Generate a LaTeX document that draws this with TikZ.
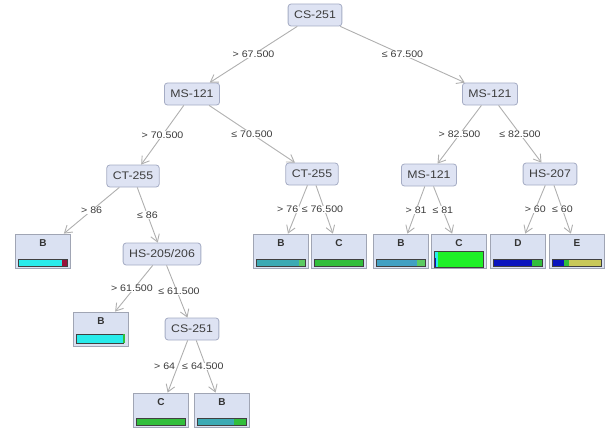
\documentclass[tikz,border=0pt]{standalone}
\usepackage{fontspec}
\setmainfont{Liberation Sans}
\newfontfamily\lab[FakeStretch=1.12]{Liberation Sans}
\usetikzlibrary{arrows.meta,calc}
\definecolor{nodefill}{RGB}{222,227,243}
\definecolor{nodedraw}{RGB}{165,172,196}
\definecolor{leaffill}{RGB}{218,225,242}
\definecolor{leafdraw}{RGB}{160,165,180}
\definecolor{edgecol}{RGB}{175,175,175}
\definecolor{labcol}{RGB}{60,60,60}
\definecolor{cyanb}{RGB}{40,235,235}
\definecolor{tealb}{RGB}{60,170,180}
\definecolor{steelb}{RGB}{65,160,195}
\definecolor{greenb}{RGB}{50,190,60}
\definecolor{limeb}{RGB}{30,240,40}
\definecolor{navyb}{RGB}{10,20,190}
\definecolor{oliveb}{RGB}{200,200,90}
\definecolor{redb}{RGB}{150,20,60}
\newcommand{\leafbar}[2]{\begin{scope}[shift={(#1.south west)}]#2\end{scope}}
\tikzset{
  inner/.style={draw=nodedraw, fill=nodefill, rounded corners=3pt, line width=0.8pt,
    minimum height=22pt, inner xsep=6pt, inner ysep=3pt, font=\lab\fontsize{11}{12}\selectfont, text=labcol},
  leaf/.style={draw=leafdraw, fill=leaffill, line width=0.8pt, minimum width=55pt, minimum height=34pt, inner sep=0pt},
  leaftext/.style={font=\bfseries\fontsize{10}{12}\selectfont, text=black!80},
  edge/.style={draw=edgecol, line width=0.9pt, -{Straight Barb[length=7pt,width=9pt]}},
  elab/.style={fill=white, inner sep=0.6pt, font=\lab\fontsize{9.5}{11}\selectfont, text=labcol},
  barline/.style={draw=black!75, line width=0.8pt}
}
\begin{document}
\begin{tikzpicture}[x=1pt,y=-1pt]
\useasboundingbox (0,0) rectangle (608,428);
% inner nodes
\node[inner] (root) at (315,15) {CS-251};
\node[inner] (ms1) at (192,94) {MS-121};
\node[inner] (ms2) at (490,94) {MS-121};
\node[inner] (ct1) at (133,176) {CT-255};
\node[inner] (ct2) at (312,174) {CT-255};
\node[inner] (ms3) at (429,175) {MS-121};
\node[inner] (hs1) at (550,174) {HS-207};
\node[inner] (hs2) at (162,254) {HS-205/206};
\node[inner] (cs2) at (192,329) {CS-251};
% leaves
\node[leaf] (l1) at (43,251) {};
\node[leaf] (l2) at (281,251) {};
\node[leaf] (l3) at (339,251) {};
\node[leaf] (l4) at (401,251) {};
\node[leaf] (l5) at (459,251) {};
\node[leaf] (l6) at (518,251) {};
\node[leaf] (l7) at (577,251) {};
\node[leaf] (l8) at (101,329) {};
\node[leaf] (l9) at (161,410) {};
\node[leaf] (l10) at (222,410) {};
% leaf letters
\node[leaftext] (t1) at ($(l1.north)+(0,9)$) {B};
\node[leaftext] (t2) at ($(l2.north)+(0,9)$) {B};
\node[leaftext] (t3) at ($(l3.north)+(0,9)$) {C};
\node[leaftext] (t4) at ($(l4.north)+(0,9)$) {B};
\node[leaftext] (t5) at ($(l5.north)+(0,9)$) {C};
\node[leaftext] (t6) at ($(l6.north)+(0,9)$) {D};
\node[leaftext] (t7) at ($(l7.north)+(0,9)$) {E};
\node[leaftext] (t8) at ($(l8.north)+(0,9)$) {B};
\node[leaftext] (t9) at ($(l9.north)+(0,9)$) {C};
\node[leaftext] (t10) at ($(l10.north)+(0,9)$) {B};
% bars
\leafbar{l1}{\fill[cyanb] (3,-2) rectangle (47,-9); \fill[redb] (47,-2) rectangle (52,-9); \draw[barline] (3,-2) rectangle (52,-9);}
\leafbar{l2}{\fill[tealb] (3,-2) rectangle (46,-9); \fill[greenb!80] (46,-2) rectangle (52,-9); \draw[barline] (3,-2) rectangle (52,-9);}
\leafbar{l3}{\fill[greenb] (3,-2) rectangle (52,-9); \draw[barline] (3,-2) rectangle (52,-9);}
\leafbar{l4}{\fill[steelb] (3,-2) rectangle (44,-9); \fill[greenb!80] (44,-2) rectangle (52,-9); \draw[barline] (3,-2) rectangle (52,-9);}
\leafbar{l5}{\fill[limeb] (3,-1) rectangle (52,-17); \fill[cyanb] (3,-1) rectangle (7,-17); \fill[navyb] (3,-1) rectangle (5,-10); \draw[barline] (3,-1) rectangle (52,-17);}
\leafbar{l6}{\fill[navyb] (3,-2) rectangle (42,-9); \fill[greenb] (42,-2) rectangle (52,-9); \draw[barline] (3,-2) rectangle (52,-9);}
\leafbar{l7}{\fill[oliveb] (3,-2) rectangle (52,-9); \fill[navyb] (3,-2) rectangle (15,-9); \fill[greenb] (15,-2) rectangle (20,-9); \draw[barline] (3,-2) rectangle (52,-9);}
\leafbar{l8}{\fill[cyanb] (3,-3) rectangle (50,-12); \draw[draw=black!75,line width=0.8pt] (3,-3) rectangle (50,-12); \fill[greenb] (50,-3) rectangle (52,-12);}
\leafbar{l9}{\fill[greenb] (3,-2) rectangle (52,-9); \draw[barline] (3,-2) rectangle (52,-9);}
\leafbar{l10}{\fill[tealb] (3,-2) rectangle (40,-9); \fill[greenb] (40,-2) rectangle (52,-9); \draw[barline] (3,-2) rectangle (52,-9);}
% edges
\draw[edge] (root) -- node[elab] {> 67.500} (ms1);
\draw[edge] (root) -- node[elab] {≤ 67.500} (ms2);
\draw[edge] (ms1) -- node[elab] {> 70.500} (ct1);
\draw[edge] (ms1) -- node[elab] {≤ 70.500} (ct2);
\draw[edge] (ms2) -- node[elab] {> 82.500} (ms3);
\draw[edge] (ms2) -- node[elab] {≤ 82.500} (hs1);
\draw[edge] (ct1) -- node[elab] {> 86} (l1);
\draw[edge] (ct1) -- node[elab] {≤ 86} (hs2);
\draw[edge] (ct2) -- node[elab, xshift=-10pt] {> 76} (l2);
\draw[edge] (ct2) -- node[elab, xshift=-2pt] {≤ 76.500} (l3);
\draw[edge] (ms3) -- node[elab] {> 81} (l4);
\draw[edge] (ms3) -- node[elab] {≤ 81} (l5);
\draw[edge] (hs1) -- node[elab] {> 60} (l6);
\draw[edge] (hs1) -- node[elab] {≤ 60} (l7);
\draw[edge] (hs2) -- node[elab, xshift=-2pt] {> 61.500} (l8);
\draw[edge] (hs2) -- node[elab, xshift=2pt] {≤ 61.500} (cs2);
\draw[edge] (cs2) -- node[elab, xshift=-13pt] {> 64} (l9);
\draw[edge] (cs2) -- node[elab, xshift=-3pt] {≤ 64.500} (l10);
\end{tikzpicture}
\end{document}
